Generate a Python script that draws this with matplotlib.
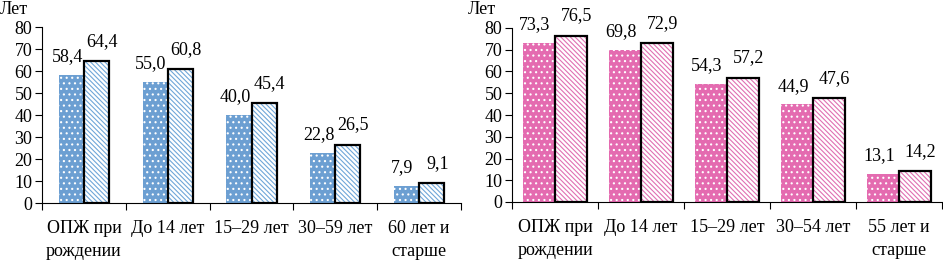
import numpy as np
import matplotlib.pyplot as plt

plt.rcParams['font.family'] = ['Liberation Serif', 'DejaVu Serif']
plt.rcParams['font.size'] = 13
plt.rcParams['hatch.linewidth'] = 0.8

# data
cats_left = ['ОПЖ при\nрождении', 'До 14 лет', '15–29 лет', '30–59 лет', '60 лет и\nстарше']
left_a = [58.4, 55.0, 40.0, 22.8, 7.9]
left_b = [64.4, 60.8, 45.4, 26.5, 9.1]

cats_right = ['ОПЖ при\nрождении', 'До 14 лет', '15–29 лет', '30–54 лет', '55 лет и\nстарше']
right_a = [73.3, 69.8, 54.3, 44.9, 13.1]
right_b = [76.5, 72.9, 57.2, 47.6, 14.2]

fig = plt.figure(figsize=(9.43, 2.63), dpi=100)
ax1 = fig.add_axes([42/943, 60/263, 419/943, 176/263])
ax2 = fig.add_axes([512/943, 61/263, 430/943, 174/263])


def fmt(v):
    return f'{v:.1f}'.replace('.', ',')


def draw(ax, cats, a, b, dot_col, stripe_col, width):
    x = np.arange(len(cats))
    ax.bar(x - width/2, a, width, color=dot_col, edgecolor='white',
           linewidth=0, hatch='...')
    ax.bar(x + width/2, b, width, color='white', edgecolor=stripe_col,
           linewidth=0, hatch='\\' * 7)
    ax.bar(x + width/2, b, width, fill=False, edgecolor='black', linewidth=1.6)
    for xi, va, vb in zip(x, a, b):
        ax.annotate(fmt(va), (xi - width/2, va), xytext=(-3, 7),
                    textcoords='offset points', ha='center', va='bottom')
        ax.annotate(fmt(vb), (xi + width/2, vb), xytext=(4, 8),
                    textcoords='offset points', ha='center', va='bottom')

    ax.set_xlim(-0.5, len(cats) - 0.5)
    ax.set_ylim(0, 80)
    ax.set_yticks(range(0, 81, 10))
    ax.set_xticks(x)
    ax.set_xticklabels(cats, linespacing=1.5)
    ax.set_xticks(np.arange(-0.5, len(cats)), minor=True)
    ax.tick_params(axis='x', which='major', length=0, pad=12)
    ax.tick_params(axis='x', which='minor', length=5, width=0.8, direction='out')
    ax.tick_params(axis='y', length=5, width=0.8, pad=2)
    for s in ['top', 'right']:
        ax.spines[s].set_visible(False)
    for s in ['left', 'bottom']:
        ax.spines[s].set_linewidth(0.8)


draw(ax1, cats_left, left_a, left_b, '#6c9fd2', '#6fa6d8', 0.30)
draw(ax2, cats_right, right_a, right_b, '#e46bb0', '#e070b2', 0.37)

fig.text(0, 1 - 10/263, 'Лет', ha='left', va='center')
fig.text(468/943, 1 - 10/263, 'Лет', ha='left', va='center')

fig.savefig('out.png', dpi=100)
